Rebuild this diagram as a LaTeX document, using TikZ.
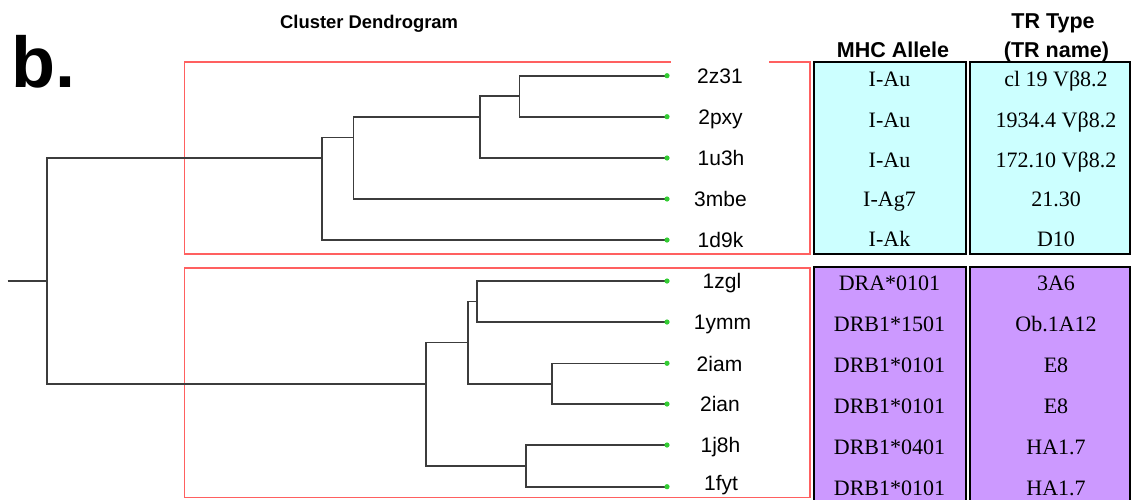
\documentclass[tikz,border=0pt]{standalone}
\usepackage{fontspec}
\setmainfont{Liberation Serif}
\newfontfamily\arial{Liberation Sans}
\definecolor{treegray}{HTML}{3C3C3C}
\definecolor{leafgreen}{HTML}{33CC33}
\definecolor{boxred}{HTML}{FF6060}
\definecolor{cellcyan}{HTML}{CCFFFF}
\definecolor{cellpurple}{HTML}{CC99FF}
\tikzset{
  branch/.style={draw=treegray, line width=1.6pt},
  tipdot/.style={fill=leafgreen, draw=none},
  groupbox/.style={draw=boxred, line width=1.6pt},
  cellbox/.style={draw=black, line width=2pt},
  leaflabel/.style={font=\arial\fontsize{21}{21}\selectfont, text height=15pt, text depth=0pt, inner sep=0pt, anchor=center},
  celltext/.style={font=\fontsize{22}{22}\selectfont, text height=14.6pt, text depth=0pt, inner sep=0pt, anchor=center},
  headtext/.style={font=\arial\bfseries\fontsize{21.5}{21.5}\selectfont, text height=15.4pt, text depth=0pt, inner sep=0pt, anchor=center},
}
\begin{document}
\begin{tikzpicture}[x=1pt,y=-1pt]
\clip (0,0) rectangle (1133,499);
\fill[white] (0,0) rectangle (1133,499);

% titles
\node[font=\arial\bfseries\fontsize{72}{72}\selectfont, anchor=base west, inner sep=0pt] (panel) at (11,87) {b.};
\node[font=\arial\bfseries\fontsize{18.4}{18.4}\selectfont, anchor=base west, inner sep=0pt] (title) at (280,28.3) {Cluster Dendrogram};
\node[headtext] (hmhc) at (893,50) {MHC Allele};
\node[headtext] (htr1) at (1053,20.5) {TR Type};
\node[headtext] (htr2) at (1056.5,49.5) {(TR name)};

% group boxes
\draw[groupbox] (184.3,62.2) rectangle (810,254);
\draw[groupbox] (184.3,267.7) rectangle (810,497.6);

% table cells
\draw[cellbox, fill=cellcyan] (814.3,62.3) rectangle (965.7,254.3);
\draw[cellbox, fill=cellcyan] (970,62.3) rectangle (1130,254.3);
\draw[cellbox, fill=cellpurple] (814.3,266.7) rectangle (965.7,520);
\draw[cellbox, fill=cellpurple] (970,266.7) rectangle (1130,520);

% leaf tips
\coordinate (t1) at (667,75.7);
\coordinate (t2) at (667,116.7);
\coordinate (t3) at (667,158);
\coordinate (t4) at (667,199);
\coordinate (t5) at (667,240);
\coordinate (b1) at (667,281);
\coordinate (b2) at (667,322);
\coordinate (b3) at (667,363.3);
\coordinate (b4) at (667,404);
\coordinate (b5) at (667,445);
\coordinate (b6) at (667,486.7);

% internal nodes
\coordinate (nA) at (519.3,96.2);
\coordinate (nB) at (480,116.8);
\coordinate (nC) at (353.3,137.4);
\coordinate (nD) at (321.7,158.0);
\coordinate (nG) at (476.7,301.5);
\coordinate (nH) at (551.7,383.7);
\coordinate (nF) at (467.7,342.6);
\coordinate (nI) at (525.7,465.9);
\coordinate (nE) at (425.7,383.7);
\coordinate (nR) at (46.7,281.0);
\coordinate (stem) at (7.7,281.0);

% branches
\draw[branch] (nA) |- (t1);
\draw[branch] (nA) |- (t2);
\draw[branch] (nB) |- (nA);
\draw[branch] (nB) |- (t3);
\draw[branch] (nC) |- (nB);
\draw[branch] (nC) |- (t4);
\draw[branch] (nD) |- (nC);
\draw[branch] (nD) |- (t5);
\draw[branch] (nG) |- (b1);
\draw[branch] (nG) |- (b2);
\draw[branch] (nH) |- (b3);
\draw[branch] (nH) |- (b4);
\draw[branch] (nF) |- (nG);
\draw[branch] (nF) |- (nH);
\draw[branch] (nI) |- (b5);
\draw[branch] (nI) |- (b6);
\draw[branch] (nE) |- (nF);
\draw[branch] (nE) |- (nI);
\draw[branch] (nR) |- (nD);
\draw[branch] (nR) |- (nE);
\draw[branch] (stem) -- (nR);

\foreach \t in {t1,t2,t3,t4,t5,b1,b2,b3,b4,b5,b6}
  \fill[tipdot] (\t) circle (2.6pt);

% leaf labels
\node[leaflabel, fill=white, minimum width=98pt, minimum height=30pt] (l1) at (720,76.2) {2z31};
\node[leaflabel] (l2) at (720.5,117) {2pxy};
\node[leaflabel] (l3) at (721,158.3) {1u3h};
\node[leaflabel] (l4) at (720.5,199.3) {3mbe};
\node[leaflabel] (l5) at (720.5,240.3) {1d9k};
\node[leaflabel] (l6) at (722,281.3) {1zgl};
\node[leaflabel] (l7) at (722.5,322.3) {1ymm};
\node[leaflabel] (l8) at (719.5,363.5) {2iam};
\node[leaflabel] (l9) at (720,404.3) {2ian};
\node[leaflabel] (l10) at (720.5,445.3) {1j8h};
\node[leaflabel] (l11) at (721,482.5) {1fyt};

% MHC allele column
\node[celltext] (m1) at (889.5,79.3) {I-Au};
\node[celltext] (m2) at (889.5,120) {I-Au};
\node[celltext] (m3) at (889.5,160) {I-Au};
\node[celltext] (m4) at (889.5,199.5) {I-Ag7};
\node[celltext] (m5) at (889.5,239.3) {I-Ak};
\node[celltext] (m6) at (889.5,283.3) {DRA*0101};
\node[celltext] (m7) at (889.5,324.3) {DRB1*1501};
\node[celltext] (m8) at (889.5,365.3) {DRB1*0101};
\node[celltext] (m9) at (889.5,406.3) {DRB1*0101};
\node[celltext] (m10) at (889.5,447.3) {DRB1*0401};
\node[celltext] (m11) at (889.5,488.3) {DRB1*0101};

% TR column
\node[celltext] (r1) at (1056,79.3) {cl 19 Vβ8.2};
\node[celltext] (r2) at (1056,120) {1934.4 Vβ8.2};
\node[celltext] (r3) at (1056,160) {172.10 Vβ8.2};
\node[celltext] (r4) at (1056,199.5) {21.30};
\node[celltext] (r5) at (1056,239.3) {D10};
\node[celltext] (r6) at (1056,283.3) {3A6};
\node[celltext] (r7) at (1056,324.3) {Ob.1A12};
\node[celltext] (r8) at (1056,365.3) {E8};
\node[celltext] (r9) at (1056,406.3) {E8};
\node[celltext] (r10) at (1056,447.3) {HA1.7};
\node[celltext] (r11) at (1056,488.3) {HA1.7};
\end{tikzpicture}
\end{document}
